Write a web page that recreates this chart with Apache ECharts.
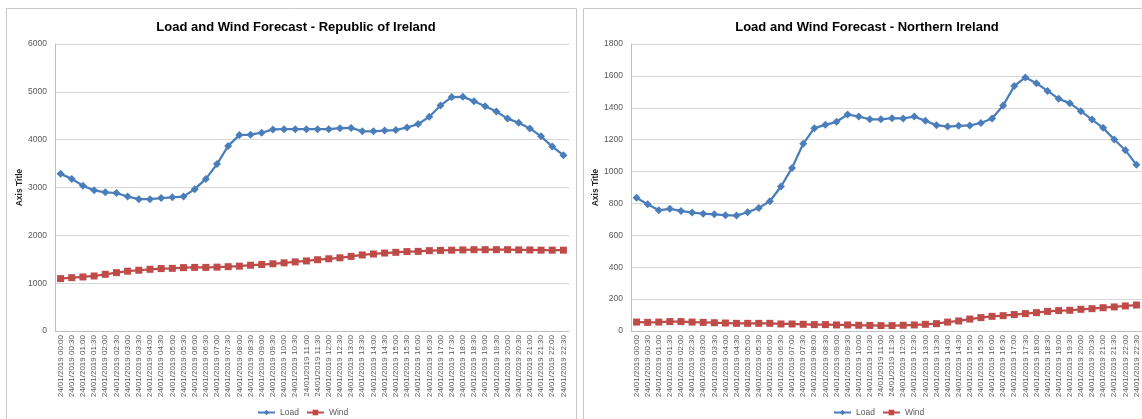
<!DOCTYPE html>
<html>
<head>
<meta charset="utf-8">
<script src="https://cdn.jsdelivr.net/npm/echarts@6/dist/echarts.min.js"></script>
<style>
  html, body { margin: 0; padding: 0; background: #fff; }
  #chart { width: 1142px; height: 419px; }
</style>
</head>
<body>
<div id="chart"></div>
<script>
// Half-hourly timestamps, 24/01/2019 00:00 .. 22:30
const times = ['00:00','00:30','01:00','01:30','02:00','02:30','03:00','03:30','04:00','04:30',
  '05:00','05:30','06:00','06:30','07:00','07:30','08:00','08:30','09:00','09:30',
  '10:00','10:30','11:00','11:30','12:00','12:30','13:00','13:30','14:00','14:30',
  '15:00','15:30','16:00','16:30','17:00','17:30','18:00','18:30','19:00','19:30',
  '20:00','20:30','21:00','21:30','22:00','22:30'];
const categories = times.map(t => '24/01/2019 ' + t);

// Republic of Ireland (MW)
const roiLoad = [3285, 3180, 3035, 2940, 2900, 2885, 2810, 2755, 2755, 2780,
  2795, 2810, 2965, 3180, 3490, 3870, 4095, 4105, 4145, 4215,
  4220, 4220, 4220, 4220, 4220, 4240, 4245, 4175, 4175, 4190,
  4200, 4255, 4325, 4480, 4715, 4890, 4895, 4805, 4700, 4590,
  4440, 4355, 4235, 4070, 3855, 3675];
const roiWind = [1095, 1115, 1130, 1150, 1185, 1220, 1250, 1270, 1290, 1305,
  1310, 1325, 1330, 1330, 1335, 1345, 1355, 1375, 1390, 1405,
  1425, 1445, 1465, 1490, 1510, 1530, 1560, 1590, 1610, 1630,
  1645, 1660, 1665, 1680, 1685, 1690, 1695, 1700, 1700, 1700,
  1700, 1695, 1695, 1690, 1690, 1690];

// Northern Ireland (MW)
const niLoad = [835, 795, 757, 766, 753, 743, 736, 732, 726, 724,
  745, 772, 814, 906, 1023, 1174, 1272, 1293, 1312, 1358,
  1345, 1328, 1328, 1335, 1333, 1345, 1318, 1291, 1282, 1287,
  1289, 1305, 1333, 1414, 1536, 1590, 1554, 1506, 1456, 1429,
  1379, 1326, 1274, 1201, 1134, 1042];
const niWind = [56, 54, 56, 59, 59, 56, 54, 52, 50, 48,
  48, 48, 48, 44, 44, 42, 40, 40, 38, 38,
  36, 35, 34, 34, 36, 38, 42, 46, 56, 63,
  75, 84, 92, 96, 103, 109, 115, 123, 128, 130,
  136, 140, 146, 151, 157, 163];

const roiTicks = { min: 0, max: 6000, interval: 1000 };
const niTicks = { min: 0, max: 1800, interval: 200 };

const BLUE = '#4a7ebb';
const RED = '#be4b48';
const FONT = '"Liberation Sans", Arial, sans-serif';

const chart = echarts.init(document.getElementById('chart'), null, { renderer: 'canvas' });

function xAxis(gridIndex) {
  return {
    type: 'category', gridIndex, data: categories, boundaryGap: true,
    axisLine: { show: true, lineStyle: { color: '#bfbfbf', width: 1 } },
    axisTick: { show: false },
    axisLabel: { interval: 0, rotate: 90, fontSize: 8, color: '#595959', fontFamily: FONT, margin: 4 }
  };
}
function yAxis(gridIndex, t) {
  return {
    type: 'value', gridIndex, min: t.min, max: t.max, interval: t.interval,
    name: 'Axis Title', nameLocation: 'middle', nameGap: 27, nameRotate: 90,
    nameTextStyle: { fontSize: 8.5, fontWeight: 'bold', color: '#262626', fontFamily: FONT },
    axisLine: { show: true, lineStyle: { color: '#bfbfbf', width: 1 } },
    axisTick: { show: false },
    axisLabel: { fontSize: 8.5, color: '#595959', fontFamily: FONT, margin: 8,
      formatter: v => String(v) },
    splitLine: { lineStyle: { color: '#d9d9d9', width: 1 } }
  };
}
function lineSeries(name, idx, data, color, symbol, size) {
  return {
    name, type: 'line', xAxisIndex: idx, yAxisIndex: idx, data,
    symbol, symbolSize: size, showAllSymbol: true,
    lineStyle: { color, width: 2.25 },
    itemStyle: { color },
    animation: false
  };
}
function legend(left) {
  return {
    data: ['Load', 'Wind'], left, top: 403,
    itemWidth: 17, itemHeight: 7, itemGap: 7,
    textStyle: { fontSize: 8.5, color: '#595959', fontFamily: FONT }
  };
}

chart.setOption({
  animation: false,
  graphic: [
    { type: 'rect', shape: { x: 6.5, y: 8.5, width: 570, height: 420 },
      style: { fill: 'none', stroke: '#c8c8c8', lineWidth: 1 } },
    { type: 'rect', shape: { x: 583.5, y: 8.5, width: 570, height: 420 },
      style: { fill: 'none', stroke: '#c8c8c8', lineWidth: 1 } }
  ],
  title: [
    { text: 'Load and Wind Forecast - Republic of Ireland', left: 291, top: 16, textAlign: 'center',
      textStyle: { fontSize: 13, fontWeight: 'bold', color: '#000', fontFamily: FONT } },
    { text: 'Load and Wind Forecast - Northern Ireland', left: 862, top: 16, textAlign: 'center',
      textStyle: { fontSize: 13, fontWeight: 'bold', color: '#000', fontFamily: FONT } }
  ],
  legend: [legend(252), legend(828)],
  grid: [
    { left: 55, top: 44, width: 514, height: 287 },
    { left: 631, top: 44, width: 512, height: 287 }
  ],
  xAxis: [xAxis(0), xAxis(1)],
  yAxis: [yAxis(0, roiTicks), yAxis(1, niTicks)],
  series: [
    lineSeries('Load', 0, roiLoad, BLUE, 'diamond', 8),
    lineSeries('Wind', 0, roiWind, RED, 'rect', 7),
    lineSeries('Load', 1, niLoad, BLUE, 'diamond', 8),
    lineSeries('Wind', 1, niWind, RED, 'rect', 7)
  ]
});
</script>
</body>
</html>
